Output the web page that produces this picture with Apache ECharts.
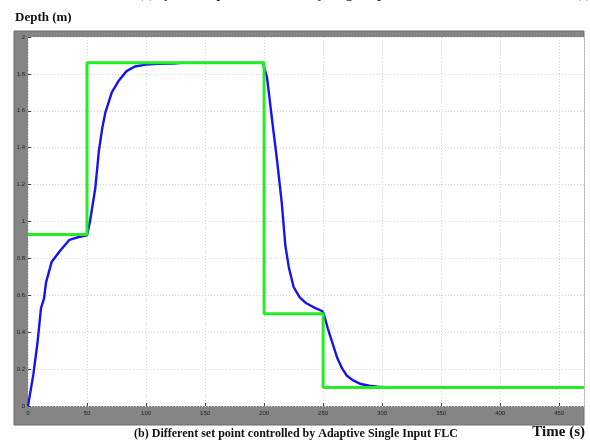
<!DOCTYPE html>
<html>
<head>
<meta charset="utf-8">
<script src="https://cdn.jsdelivr.net/npm/echarts@6/dist/echarts.min.js"></script>
<style>
html,body{margin:0;padding:0;background:#fff;}
#chart{width:590px;height:445px;}
</style>
</head>
<body>
<div id="chart"></div>
<script>
// Set point (green): step changes
const setTimes  = [0, 50, 200, 250, 471];
const setValues = [0.93, 1.86, 0.5, 0.1, 0.1];

// Depth response (blue)
const respTimes  = [0, 4.5, 8, 11, 13.5, 15.3, 20, 27, 35, 42.7, 50,
  52.5, 57, 60, 63, 65.5, 71, 76.5, 83.5, 90.5, 100, 110, 123, 130, 199,
  200, 202.5, 206.5, 211, 215, 218, 221, 225, 230, 235, 242, 249, 250.5,
  254, 258, 262, 266, 270, 275, 282, 289, 296, 307];
const respValues = [0, 0.17, 0.34, 0.53, 0.58, 0.67, 0.78, 0.84, 0.90, 0.915, 0.925,
  1.0, 1.18, 1.38, 1.51, 1.59, 1.70, 1.76, 1.815, 1.84, 1.85, 1.855, 1.856, 1.86, 1.86,
  1.856, 1.78, 1.565, 1.33, 1.10, 0.87, 0.75, 0.645, 0.59, 0.56, 0.535, 0.515, 0.50,
  0.42, 0.34, 0.26, 0.205, 0.165, 0.14, 0.119, 0.11, 0.105, 0.10];

const xTicks = [0, 50, 100, 150, 200, 250, 300, 350, 400, 450];
const yTicks = ['0', '0.2', '0.4', '0.6', '0.8', '1', '1.2', '1.4', '1.6', '1.8', '2'];

const xMax = 471;
const yMax = 2;

const chart = echarts.init(document.getElementById('chart'), null, {renderer: 'canvas'});

const setData = setTimes.map((t, i) => [t, setValues[i]]);
const respData = respTimes.map((t, i) => [t, respValues[i]]);

const serif = '"Liberation Serif", "DejaVu Serif", serif';

chart.setOption({
  animation: false,
  backgroundColor: '#fff',
  graphic: [
    {type: 'rect', z: -10, shape: {x: 14, y: 31, width: 570, height: 394},
     style: {fill: '#858585', stroke: '#6a6a6a', lineWidth: 1}},
    {type: 'text', left: 15, top: 11,
     style: {text: 'Depth (m)', font: 'bold 13px ' + serif, fill: '#111'}},
    {type: 'text', x: 296, y: 434,
     style: {text: '(b) Different set point controlled by Adaptive Single Input FLC',
       font: 'bold 12px ' + serif, fill: '#111', align: 'center', verticalAlign: 'middle'}},
    {type: 'text', x: 585, y: 432,
     style: {text: 'Time (s)', font: 'bold 15px ' + serif, fill: '#111', align: 'right', verticalAlign: 'middle'}},
    {type: 'text', x: 282, y: -5,
     style: {text: '(a) System response controlled by Single Input FLC',
       font: 'bold 13px ' + serif, fill: '#222', align: 'center', verticalAlign: 'middle'}},
    {type: 'text', x: 590, y: -5,
     style: {text: 'Time (s)', font: 'bold 13px ' + serif, fill: '#222', align: 'right', verticalAlign: 'middle'}}
  ],
  grid: {
    left: 28, right: 6, top: 37, bottom: 39,
    show: true, backgroundColor: '#ffffff', borderWidth: 0
  },
  xAxis: {
    type: 'value', min: 0, max: xMax, interval: 50,
    axisLine: {show: false},
    axisTick: {show: true, inside: true, length: 3, lineStyle: {color: '#444', width: 1}},
    axisLabel: {show: true, fontSize: 6, color: '#222', margin: 4, showMaxLabel: false,
      fontFamily: 'Arial, "Liberation Sans", sans-serif',
      formatter: v => xTicks.indexOf(v) >= 0 ? String(v) : ''},
    splitLine: {show: true, lineStyle: {color: '#d4d4d4', type: [1, 2], width: 1}}
  },
  yAxis: {
    type: 'value', min: 0, max: yMax, interval: 0.2,
    axisLine: {show: false},
    axisTick: {show: true, inside: true, length: 3, lineStyle: {color: '#444', width: 1}},
    axisLabel: {show: true, fontSize: 6, color: '#222', margin: 3,
      fontFamily: 'Arial, "Liberation Sans", sans-serif',
      formatter: v => yTicks[Math.round(v / 0.2)]},
    splitLine: {show: true, lineStyle: {color: '#d4d4d4', type: [1, 2], width: 1}}
  },
  series: [
    {
      type: 'line', name: 'Depth', data: respData, showSymbol: false, symbol: 'none',
      lineStyle: {color: '#1414ee', width: 2.4}, z: 2
    },
    {
      type: 'line', name: 'Set point', data: setData, step: 'end', showSymbol: false, symbol: 'none',
      lineStyle: {color: '#22ee22', width: 3}, z: 3
    }
  ]
});
</script>
</body>
</html>
